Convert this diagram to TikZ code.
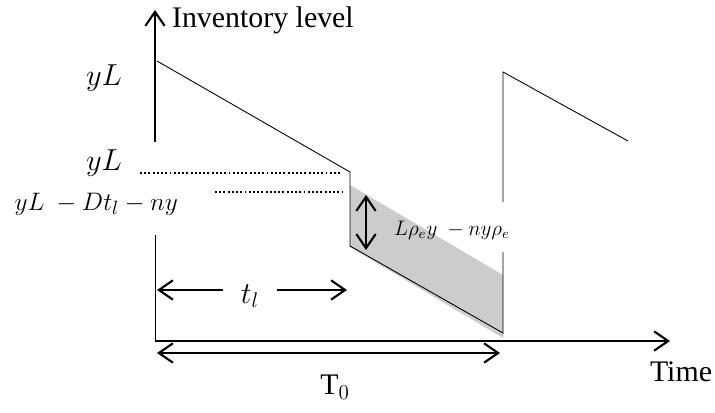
\documentclass[tikz,border=0pt]{standalone}
\usepackage{amsmath}
\usepackage{fontspec}
\setmainfont{Liberation Serif}
\usetikzlibrary{arrows.meta, positioning}

\begin{document}
\begin{tikzpicture}[x=0.02cm, y=-0.02cm, >={Straight Barb[length=8pt, width=11pt, line width=1.2pt]},
  axis/.style={line width=1.6pt},
  dim/.style={line width=1.2pt},
  curve/.style={line width=0.5pt},
  guide/.style={line width=1.1pt, dash pattern=on 1.1pt off 1.3pt},
  lbl/.style={font=\fontsize{17}{20}\selectfont, inner sep=1pt}]
  \useasboundingbox (0,0) rectangle (715,412);
  % shaded band
  \fill[gray!40] (350,185) -- (503,275) -- (503,338) -- (350,247) -- cycle;
  % axes
  \coordinate (o) at (155,341);
  \coordinate (ytop) at (155,10);
  \coordinate (ybot) at (155,142);
  \coordinate (xend) at (670,341);
  \draw[axis, ->] (ybot) -- (ytop);
  \draw[curve] (155,235) -- (o);
  \draw[axis, ->] (o) -- (xend);
  \node[lbl, anchor=west] (inv) at (170,20) {Inventory level};
  \node[lbl] (time) at (681,372) {Time};
  % inventory curve
  \coordinate (p1) at (157,61);
  \coordinate (p2) at (350,172);
  \coordinate (p3) at (350,246);
  \coordinate (p4) at (503,333);
  \coordinate (p5) at (503,72);
  \coordinate (p6) at (628,141);
  \draw[curve] (p1) -- (p2) -- (p3) -- (p4) -- (503,252);
  \draw[curve] (503,202) -- (p5) -- (p6);
  % levels
  \draw[guide] (140,173) -- (342,173);
  \draw[guide] (215,192) -- (342,192);
  \node[lbl] (yl1) at (104,78) {$yL$};
  \node[lbl] (yl2) at (104,163) {$yL$};
  \node[lbl, font=\fontsize{15}{18}\selectfont, anchor=east] (yl3) at (180,204) {$yL\ -Dt_l-ny$};
  % loss
  \draw[dim, <->] (366,195) -- (366,250);
  \node[lbl, font=\fontsize{12}{15}\selectfont] (loss) at (452,230) {$L\rho_e y\ -ny\rho_e$};
  % durations
  \node[lbl] (tl) at (250,296) {$t_l$};
  \draw[dim, ->] (223,290) -- (157,290);
  \draw[dim, ->] (277,290) -- (347,290);
  \draw[dim, <->] (157,353) -- (500,353);
  \node[lbl] (t0) at (335,387) {T$_0$};
\end{tikzpicture}
\end{document}
